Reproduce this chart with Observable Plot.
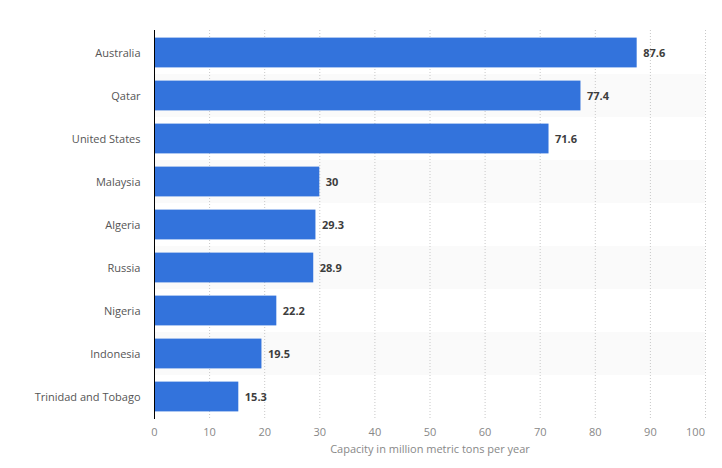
<!DOCTYPE html>
<html>
<head>
<meta charset="utf-8">
<script src="https://cdn.jsdelivr.net/npm/d3@7"></script>
<script src="https://cdn.jsdelivr.net/npm/@observablehq/plot@0.6"></script>
<style>
  body { margin: 0; background: #fff; }
</style>
</head>
<body>
<div id="chart"></div>
<script>
const countries = ["Australia", "Qatar", "United States", "Malaysia", "Algeria", "Russia", "Nigeria", "Indonesia", "Trinidad and Tobago"];
const capacities = [87.6, 77.4, 71.6, 30, 29.3, 28.9, 22.2, 19.5, 15.3];
const xTicks = [0, 10, 20, 30, 40, 50, 60, 70, 80, 90, 100];

const data = countries.map((c, i) => ({country: c, value: capacities[i], odd: i % 2 === 1}));
const bands = data.filter(d => d.odd);
const lastTick = xTicks[xTicks.length - 1];

const chart = Plot.plot({
  width: 722,
  height: 468,
  marginLeft: 154,
  marginRight: 17,
  marginTop: 30,
  marginBottom: 49,
  style: {fontFamily: "'Open Sans', sans-serif", fontSize: "11px", background: "#fff"},
  x: {domain: [0, 100], ticks: xTicks},
  y: {domain: countries, padding: 0},
  marks: [
    Plot.barX(bands, {x1: 0, x2: 100, y: "country", fill: "#fafafa"}),
    Plot.ruleX(xTicks.filter(t => t > 0), {stroke: "#c8c8c8", strokeDasharray: "1,2"}),
    Plot.barX(data, {x: "value", y: "country", fill: "#3373dc", insetTop: 6.6, insetBottom: 6.6}),
    Plot.text(data, {x: "value", y: "country", text: d => String(d.value), dx: 6, textAnchor: "start", fill: "#3d3d3d", fontWeight: "bold", fontSize: 11}),
    Plot.ruleX([0], {stroke: "#000", strokeWidth: 1}),
    Plot.axisX({ticks: xTicks.filter(t => t !== lastTick), tickSize: 0, tickPadding: 9, color: "#888", label: "Capacity in million metric tons per year", labelAnchor: "center", labelArrow: "none", labelOffset: 33, fontSize: 11}),
    Plot.axisX({ticks: [lastTick], tickSize: 0, tickPadding: 9, color: "#888", label: null, dx: -10, fontSize: 11}),
    Plot.axisY({tickSize: 0, tickPadding: 14, color: "#555", label: null, fontSize: 11})
  ]
});
document.getElementById("chart").appendChild(chart);
</script>
</body>
</html>
